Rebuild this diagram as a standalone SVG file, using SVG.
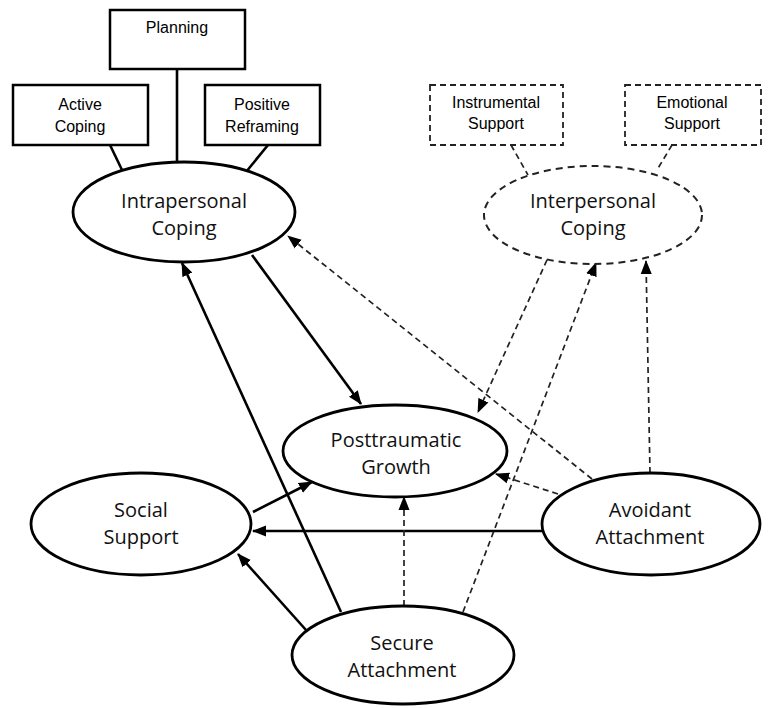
<svg xmlns="http://www.w3.org/2000/svg" width="771" height="708" viewBox="0 0 771 708">
<style>
.box{fill:#fff;stroke:#000;stroke-width:2.5}
.dbox{fill:#fff;stroke:#222;stroke-width:1.8;stroke-dasharray:6 4}
.ell{fill:#fff;stroke:#000;stroke-width:2.8}
.dell{fill:#fff;stroke:#222;stroke-width:2;stroke-dasharray:7 5}
.bt{font-family:"Liberation Sans",Arial,sans-serif;font-size:16px;fill:#000;text-anchor:middle}
.et{font-family:"Open Sans","Noto Sans",sans-serif;font-size:20px;fill:#111;text-anchor:middle}
.s{fill:none;stroke:#000;stroke-width:2.6}
.d{fill:none;stroke:#222;stroke-width:1.7;stroke-dasharray:6 4}
.sa{marker-end:url(#ah)}
.da{marker-end:url(#ah)}
</style>
<defs>
<marker id="ah" markerUnits="userSpaceOnUse" markerWidth="14" markerHeight="12" refX="13" refY="5.5" orient="auto" viewBox="0 0 14 11">
<path d="M0,0 L14,5.5 L0,11 z" fill="#000"/>
</marker>
</defs>
<g id="connectors">
<line class="s" x1="110" y1="145" x2="123" y2="172"/>
<line class="s" x1="177" y1="69" x2="177" y2="163"/>
<line class="s" x1="268" y1="145" x2="246" y2="172"/>
<line class="d" x1="511" y1="145" x2="528" y2="175"/>
<line class="d" x1="672" y1="145" x2="657" y2="170"/>
<line class="s sa" x1="252" y1="255" x2="361" y2="404"/>
<line class="s sa" x1="341" y1="612" x2="182" y2="263"/>
<line class="s sa" x1="253" y1="512" x2="312" y2="482"/>
<line class="s sa" x1="542" y1="531" x2="253" y2="531"/>
<line class="s sa" x1="306" y1="630" x2="238" y2="554"/>
<line class="d da" x1="404" y1="606" x2="404" y2="497"/>
<line class="d da" x1="463" y1="612" x2="596" y2="263"/>
<line class="d da" x1="650" y1="473" x2="646" y2="261"/>
<line class="d da" x1="592" y1="479" x2="288" y2="236"/>
<line class="d da" x1="558" y1="494" x2="496" y2="474"/>
<line class="d da" x1="547" y1="260" x2="478" y2="412"/>
</g>
<g id="planning"><rect class="box" x="110" y="10" width="135" height="59"/><text class="bt" x="177" y="33">Planning</text></g>
<g id="active-coping"><rect class="box" x="13" y="85" width="135" height="60"/><text class="bt" x="80" y="110">Active</text><text class="bt" x="80" y="132">Coping</text></g>
<g id="positive-reframing"><rect class="box" x="205" y="85" width="115" height="60"/><text class="bt" x="262" y="110">Positive</text><text class="bt" x="262" y="132">Reframing</text></g>
<g id="instrumental-support"><rect class="dbox" x="430" y="85" width="133" height="60"/><text class="bt" x="496" y="108">Instrumental</text><text class="bt" x="496" y="129">Support</text></g>
<g id="emotional-support"><rect class="dbox" x="625" y="85" width="136" height="60"/><text class="bt" x="692" y="108">Emotional</text><text class="bt" x="692" y="129">Support</text></g>
<g id="intrapersonal-coping"><ellipse class="ell" cx="184" cy="212" rx="111" ry="50"/><text class="et" x="184" y="208">Intrapersonal</text><text class="et" x="184" y="235">Coping</text></g>
<g id="interpersonal-coping"><ellipse class="dell" cx="593" cy="215" rx="109" ry="49"/><text class="et" x="593" y="208">Interpersonal</text><text class="et" x="593" y="235">Coping</text></g>
<g id="posttraumatic-growth"><ellipse class="ell" cx="395" cy="451" rx="112" ry="46"/><text class="et" x="396" y="447">Posttraumatic</text><text class="et" x="396" y="474">Growth</text></g>
<g id="social-support"><ellipse class="ell" cx="141" cy="524" rx="110" ry="51"/><text class="et" x="141" y="517">Social</text><text class="et" x="141" y="544">Support</text></g>
<g id="avoidant-attachment"><ellipse class="ell" cx="651" cy="524" rx="109" ry="51"/><text class="et" x="650" y="517">Avoidant</text><text class="et" x="650" y="544">Attachment</text></g>
<g id="secure-attachment"><ellipse class="ell" cx="403" cy="655" rx="111" ry="49"/><text class="et" x="402" y="650">Secure</text><text class="et" x="402" y="677">Attachment</text></g>
</svg>
